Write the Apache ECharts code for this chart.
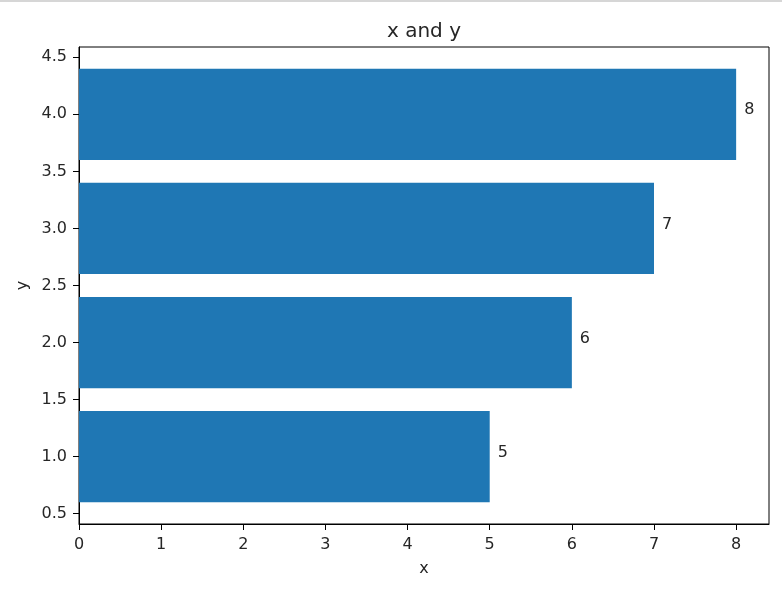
<!DOCTYPE html>
<html>
<head>
<meta charset="utf-8">
<script src="https://cdn.jsdelivr.net/npm/echarts@6/dist/echarts.min.js"></script>
<style>
  html, body { margin: 0; padding: 0; background: #fff; }
  #chart { width: 782px; height: 591px; }
  #edge { position: absolute; left: 0; top: 0; width: 782px; height: 2px; background: #d6d6d6; z-index: 5; }
</style>
</head>
<body>
<div id="edge"></div>
<div id="chart"></div>
<script>
// ---- data ----
const yPositions = [1, 2, 3, 4];
const barValues = [5, 6, 7, 8];
const xTicks = [0, 1, 2, 3, 4, 5, 6, 7, 8];
const yTicks = [0.5, 1.0, 1.5, 2.0, 2.5, 3.0, 3.5, 4.0, 4.5];
const barHeight = 0.8;

const FONT = 'DejaVu Sans';
const TXT = '#262626';

const chart = echarts.init(document.getElementById('chart'), null, { renderer: 'canvas' });

const seriesData = yPositions.map((y, i) => [barValues[i], y]);

chart.setOption({
  animation: false,
  textStyle: { fontFamily: FONT },
  title: {
    text: 'x and y',
    left: 424,
    top: 22,
    textAlign: 'center',
    padding: 0,
    textStyle: { fontFamily: FONT, fontSize: 20, fontWeight: 'normal', color: TXT }
  },
  grid: {
    left: 79, right: 13, top: 47, bottom: 67,
    show: true, borderColor: '#000', borderWidth: 1, backgroundColor: 'transparent'
  },
  xAxis: {
    type: 'value',
    min: 0, max: 8.4,
    name: 'x', nameLocation: 'middle', nameGap: 37,
    nameTextStyle: { fontFamily: FONT, fontSize: 16, color: TXT },
    axisLine: { show: true, lineStyle: { color: '#000', width: 1 } },
    axisTick: { show: true, customValues: xTicks, length: 6, lineStyle: { color: '#000', width: 1 } },
    axisLabel: {
      customValues: xTicks, margin: 13, fontSize: 16, color: TXT, fontFamily: FONT,
      formatter: v => String(v)
    },
    splitLine: { show: false }
  },
  yAxis: {
    type: 'value',
    min: 0.41, max: 4.59,
    name: 'y', nameLocation: 'middle', nameGap: 47,
    nameTextStyle: { fontFamily: FONT, fontSize: 16, color: TXT },
    axisLine: { show: true, lineStyle: { color: '#000', width: 1 } },
    axisTick: { show: true, customValues: yTicks, length: 6, lineStyle: { color: '#000', width: 1 } },
    axisLabel: {
      customValues: yTicks, margin: 12, fontSize: 16, color: TXT, fontFamily: FONT,
      padding: [4, 0, 0, 0],
      formatter: v => Number(v).toFixed(1)
    },
    splitLine: { show: false }
  },
  series: [{
    type: 'custom',
    encode: { x: 0, y: 1 },
    data: seriesData,
    clip: false,
    renderItem: function (params, api) {
      const xv = api.value(0);
      const yv = api.value(1);
      const p0 = api.coord([0, yv + barHeight / 2]);
      const p1 = api.coord([xv, yv - barHeight / 2]);
      const midY = (p0[1] + p1[1]) / 2;
      return {
        type: 'group',
        children: [
          {
            type: 'rect',
            shape: { x: p0[0], y: p0[1], width: p1[0] - p0[0], height: p1[1] - p0[1] },
            style: { fill: '#1f77b4' }
          },
          {
            type: 'text',
            style: {
              text: String(xv), x: p1[0] + 8, y: midY - 4,
              align: 'left', verticalAlign: 'middle',
              fontSize: 16, fontFamily: FONT, fill: TXT
            }
          }
        ]
      };
    }
  }]
});
</script>
</body>
</html>
